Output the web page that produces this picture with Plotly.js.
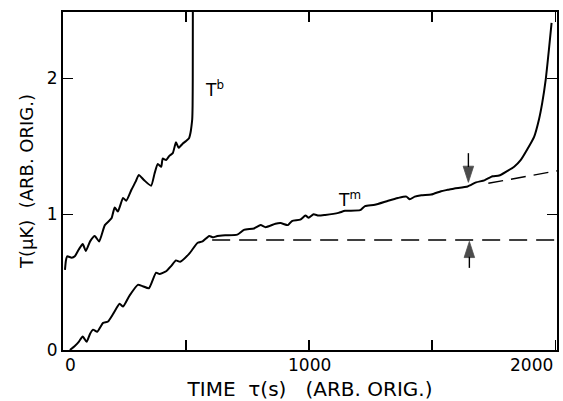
<!DOCTYPE html>
<html>
<head>
<meta charset="utf-8">
<script src="https://cdn.plot.ly/plotly-3.0.1.min.js"></script>
<style>
  html, body { margin: 0; padding: 0; background: #fff; }
  #chart { width: 563px; height: 401px; }
</style>
</head>
<body>
<div id="chart"></div>
<script>
// ---- Data ----
// T^b curve (time in s, temperature in arbitrary-origin μK)
const tbTime = [8, 12, 17, 35, 48, 64, 80, 93, 110, 129, 147, 170, 197, 210, 223, 244, 257, 278, 295, 308, 330, 358, 372, 385, 399, 405, 419, 432, 446, 459, 470, 486, 500, 512, 518, 522, 525, 526.5, 527.2, 527.6];
const tbTemp = [0.59, 0.66, 0.69, 0.68, 0.69, 0.74, 0.78, 0.73, 0.80, 0.84, 0.80, 0.92, 0.97, 1.05, 1.02, 1.12, 1.10, 1.18, 1.24, 1.29, 1.25, 1.21, 1.30, 1.37, 1.35, 1.41, 1.40, 1.43, 1.45, 1.53, 1.49, 1.52, 1.54, 1.56, 1.60, 1.65, 1.70, 1.80, 2.00, 2.55];

// T^m curve
const tmTime = [28, 48, 64, 80, 96, 110, 122, 139, 163, 183, 205, 230, 244, 270, 304, 324, 349, 378, 392, 419, 440, 459, 476, 513, 547, 567, 594, 610, 627, 660, 708, 735, 776, 803, 823, 863, 884, 914, 930, 964, 985, 998, 1018, 1038, 1065, 1119, 1146, 1207, 1227, 1267, 1321, 1361, 1395, 1409, 1429, 1456, 1496, 1536, 1563, 1590, 1644, 1678, 1712, 1745, 1772, 1806, 1833, 1860, 1887, 1914, 1934, 1947, 1961, 1974, 1985];
const tmTemp = [0.00, 0.03, 0.06, 0.10, 0.06, 0.12, 0.15, 0.135, 0.20, 0.21, 0.27, 0.34, 0.32, 0.40, 0.48, 0.47, 0.455, 0.57, 0.56, 0.58, 0.62, 0.66, 0.65, 0.71, 0.79, 0.80, 0.84, 0.83, 0.84, 0.845, 0.85, 0.885, 0.895, 0.92, 0.905, 0.93, 0.935, 0.92, 0.95, 0.96, 0.99, 0.975, 1.00, 0.99, 0.995, 1.01, 1.025, 1.03, 1.06, 1.07, 1.10, 1.12, 1.13, 1.11, 1.13, 1.14, 1.145, 1.17, 1.18, 1.19, 1.205, 1.235, 1.25, 1.28, 1.285, 1.32, 1.35, 1.40, 1.48, 1.57, 1.70, 1.82, 1.99, 2.21, 2.41];

// Dashed reference lines
const flatLineTime = [606, 2007];
const flatLineTemp = [0.81, 0.81];
const slopeLineTime = [1728, 2007];
const slopeLineTemp = [1.228, 1.320];

// Arrows (tail -> head)
const arrowTime = [1647, 1651];
const arrowTailTemp = [1.45, 0.605];
const arrowHeadTemp = [1.235, 0.80];

// Curve labels
const curveLabels = ['T<sup>b</sup>', 'T<sup>m</sup>'];
const curveLabelTime = [570, 1109];
const curveLabelTemp = [1.92, 1.11];

// Axis ticks and labels
const xTickVals = [0, 500, 1000, 1500, 2000];
const xLabelVals = [0, 1000, 2000];
const xLabelText = ['0', '1000', '2000'];
const yTickVals = [0, 1, 2];
const yTickText = ['0', '1', '2'];
const xTitle = 'TIME\u00a0\u00a0\u03c4(s)\u00a0\u00a0\u00a0(ARB.\u00a0ORIG.)';
const yTitle = 'T(\u03bcK)\u00a0\u00a0(ARB.\u00a0ORIG.)';

// ---- Chart ----
const FONT = 'DejaVu Sans, Liberation Sans, sans-serif';

const traces = [
  { x: tbTime, y: tbTemp, mode: 'lines', line: { color: '#000', width: 2, shape: 'spline', smoothing: 0.5 }, hoverinfo: 'skip' },
  { x: tmTime, y: tmTemp, mode: 'lines', line: { color: '#000', width: 2, shape: 'spline', smoothing: 0.5 }, hoverinfo: 'skip' },
  { x: flatLineTime, y: flatLineTemp, mode: 'lines', line: { color: '#000', width: 1.4, dash: '18px,9px' }, hoverinfo: 'skip' },
  { x: slopeLineTime, y: slopeLineTemp, mode: 'lines', line: { color: '#000', width: 1.4, dash: '15px,8px' }, hoverinfo: 'skip' }
];

// Arrows as line + arrow-marker traces (tip at the head point)
for (let i = 0; i < arrowTime.length; i++) {
  traces.push({
    x: [arrowTime[i], arrowTime[i]], y: [arrowTailTemp[i], arrowHeadTemp[i]],
    mode: 'lines+markers', hoverinfo: 'skip',
    line: { color: '#000', width: 1.4 },
    marker: { symbol: 'arrow', angleref: 'previous', size: [1, 17], color: '#000', line: { width: 0.8, color: '#000' } }
  });
}

const annotations = [];
for (let i = 0; i < curveLabels.length; i++) {
  annotations.push({
    x: curveLabelTime[i], y: curveLabelTemp[i], xref: 'x', yref: 'y',
    text: curveLabels[i], showarrow: false, xanchor: 'left', yanchor: 'middle',
    font: { family: FONT, size: 17, color: '#000' }
  });
}
for (let i = 0; i < xLabelVals.length; i++) {
  const anchor = i === 0 ? 'left' : (i === xLabelVals.length - 1 ? 'right' : 'center');
  annotations.push({
    x: xLabelVals[i], y: 0, xref: 'x', yref: 'paper',
    text: xLabelText[i], showarrow: false, xanchor: anchor, yanchor: 'top',
    yshift: -3, font: { family: FONT, size: 17, color: '#000' }
  });
}

const layout = {
  width: 563, height: 401,
  margin: { l: 63, r: 4, t: 12, b: 51, pad: 0 },
  paper_bgcolor: '#fff', plot_bgcolor: '#fff',
  showlegend: false,
  font: { family: FONT, color: '#000' },
  xaxis: {
    range: [0, 2007], showgrid: false, zeroline: false,
    showline: true, linecolor: '#000', linewidth: 2, mirror: 'ticks',
    ticks: 'inside', ticklen: 10, tickwidth: 1.5, tickcolor: '#000',
    tickmode: 'array', tickvals: xTickVals, showticklabels: false,
    title: { text: xTitle, font: { family: FONT, size: 20, color: '#000' }, standoff: 31 },
    automargin: true
  },
  yaxis: {
    range: [0, 2.49], showgrid: false, zeroline: false,
    showline: true, linecolor: '#000', linewidth: 2, mirror: 'ticks',
    ticks: 'inside', ticklen: 10, tickwidth: 1.5, tickcolor: '#000',
    tickmode: 'array', tickvals: yTickVals, ticktext: yTickText,
    tickfont: { family: FONT, size: 17, color: '#000' },
    title: { text: yTitle, font: { family: FONT, size: 18, color: '#000' }, standoff: 8 },
    automargin: true
  },
  annotations: annotations
};

Plotly.newPlot('chart', traces, layout, { staticPlot: true, displayModeBar: false });
</script>
</body>
</html>
